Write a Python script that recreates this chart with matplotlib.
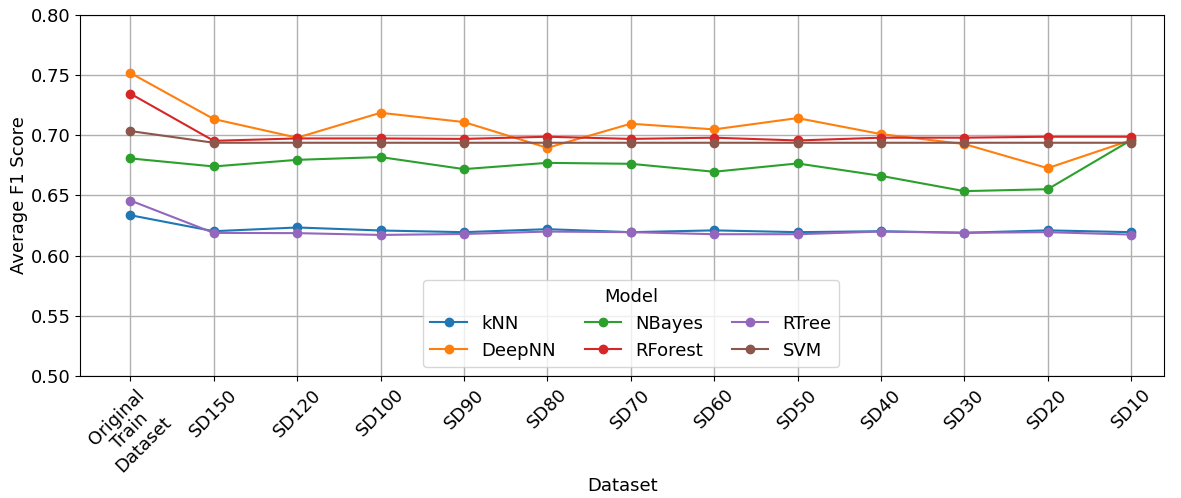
import matplotlib
matplotlib.use("Agg")
import matplotlib.pyplot as plt

datasets = ["Original\nTrain\nDataset", "SD150", "SD120", "SD100", "SD90", "SD80", "SD70",
            "SD60", "SD50", "SD40", "SD30", "SD20", "SD10"]

knn = [0.6336, 0.6203, 0.6234, 0.6209, 0.6195, 0.6220, 0.6195, 0.6210, 0.6195, 0.6203, 0.6190, 0.6210, 0.6195]
deepnn = [0.7518, 0.7135, 0.6980, 0.7187, 0.7110, 0.6896, 0.7096, 0.7049, 0.7143, 0.7010, 0.6927, 0.6727, 0.6960]
nbayes = [0.6808, 0.6741, 0.6796, 0.6819, 0.6719, 0.6771, 0.6763, 0.6697, 0.6766, 0.6663, 0.6536, 0.6552, 0.6960]
rforest = [0.7346, 0.6954, 0.6974, 0.6974, 0.6970, 0.6988, 0.6970, 0.6980, 0.6957, 0.6980, 0.6980, 0.6988, 0.6988]
rtree = [0.6458, 0.6189, 0.6187, 0.6172, 0.6180, 0.6200, 0.6195, 0.6178, 0.6178, 0.6200, 0.6190, 0.6195, 0.6175]
svm = [0.7035, 0.6938, 0.6938, 0.6938, 0.6938, 0.6938, 0.6938, 0.6938, 0.6938, 0.6938, 0.6938, 0.6938, 0.6938]

series = [("kNN", knn, "#1f77b4"), ("DeepNN", deepnn, "#ff7f0e"), ("NBayes", nbayes, "#2ca02c"),
          ("RForest", rforest, "#d62728"), ("RTree", rtree, "#9467bd"), ("SVM", svm, "#8c564b")]

plt.rcParams["font.size"] = 13
fig, ax = plt.subplots(figsize=(11.81, 4.98), dpi=100)
x = list(range(len(datasets)))
for name, vals, c in series:
    ax.plot(x, vals, marker="o", markersize=6, linewidth=1.5, color=c, label=name)

ax.set_ylim(0.50, 0.80)
ax.set_xticks(x)
ax.set_xticklabels(datasets, rotation=45, ha="center", fontsize=13, linespacing=1.1)
ax.tick_params(axis="y", labelsize=13)
ax.set_xlim(-0.6, 12.4)
ax.grid(True, color="#b0b0b0", linewidth=1.0)
ax.set_xlabel("Dataset", fontsize=13, labelpad=1)
ax.set_ylabel("Average F1 Score", fontsize=13, labelpad=2)
ax.legend(title="Model", ncol=3, loc="lower center", bbox_to_anchor=(0.508, 0.0),
          fontsize=13, title_fontsize=13, columnspacing=1.6)
fig.subplots_adjust(left=0.068, right=0.986, top=0.97, bottom=0.245)
fig.savefig("out.png", dpi=100)
